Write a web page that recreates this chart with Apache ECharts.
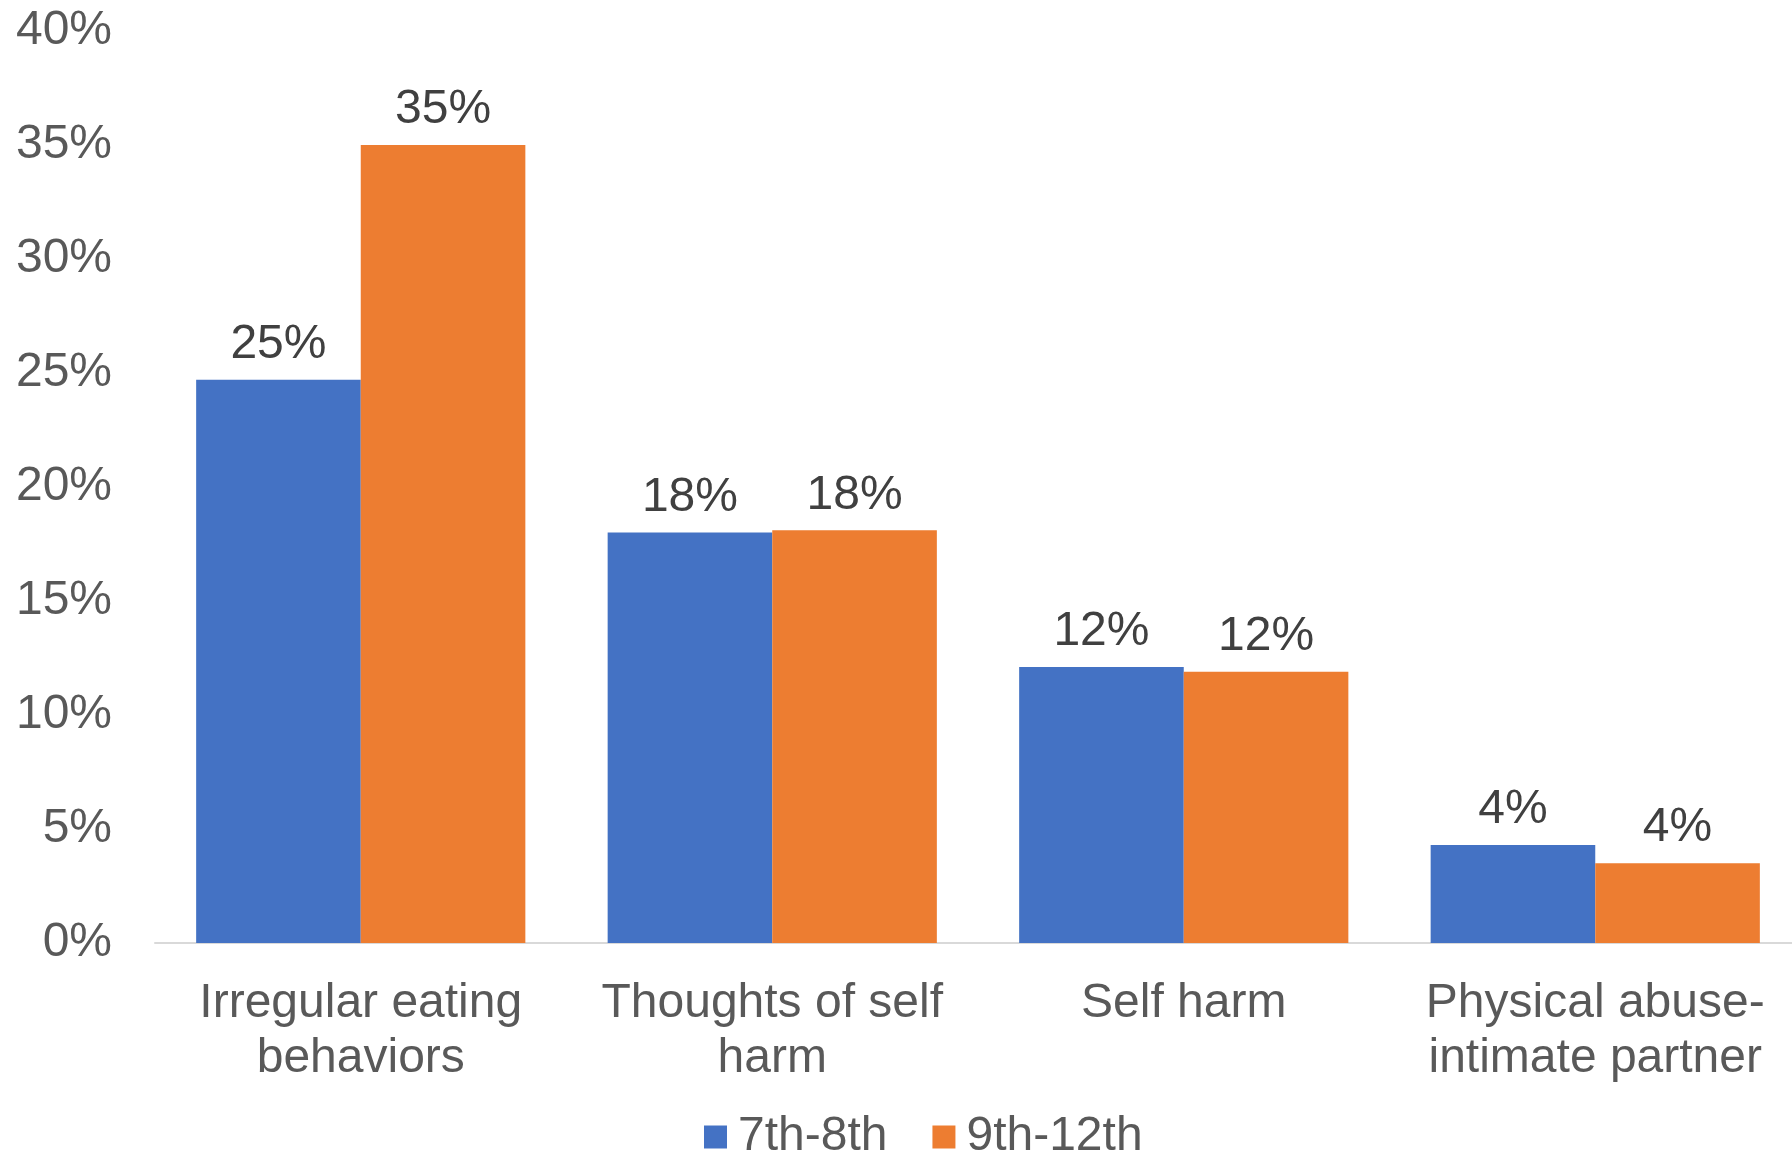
<!DOCTYPE html>
<html>
<head>
<meta charset="utf-8">
<script src="https://cdn.jsdelivr.net/npm/echarts@6/dist/echarts.min.js"></script>
<style>
  html, body { margin: 0; padding: 0; background: #ffffff; overflow: hidden; }
  #chart { width: 1801px; height: 1152px; }
</style>
</head>
<body>
<div id="chart"></div>
<script>
const categories = [
  "Irregular eating\nbehaviors",
  "Thoughts of self\nharm",
  "Self harm",
  "Physical abuse-\nintimate partner"
];
const seriesNames = ["7th-8th", "9th-12th"];
const grade7to8 = [24.7, 18.0, 12.1, 4.3];
const grade9to12 = [35.0, 18.1, 11.9, 3.5];
const yTicks = { min: 0, max: 40, interval: 5 };

const FONT = "'Liberation Sans', Arial, sans-serif";
const chart = echarts.init(document.getElementById('chart'), null, { renderer: 'canvas' });

const labelCfg = {
  show: true,
  position: 'top',
  distance: 11,
  color: '#404040',
  fontFamily: FONT,
  fontSize: 48,
  formatter: p => Math.round(p.value) + '%'
};

chart.setOption({
  animation: false,
  backgroundColor: '#ffffff',
  textStyle: { fontFamily: FONT },
  grid: { left: 155, top: 31, right: 0, height: 912, containLabel: false },
  legend: {
    data: seriesNames,
    left: 699,
    top: 1108,
    itemWidth: 23,
    itemHeight: 23,
    itemGap: 45,
    icon: 'rect',
    textStyle: { color: '#595959', fontSize: 48, fontFamily: FONT, padding: [0, 0, 0, 6] }
  },
  xAxis: {
    type: 'category',
    data: categories,
    axisLine: { show: true, lineStyle: { color: '#d9d9d9', width: 2 } },
    axisTick: { show: false },
    axisLabel: {
      color: '#595959',
      fontSize: 48,
      fontFamily: FONT,
      lineHeight: 55,
      margin: 33,
      interval: 0
    }
  },
  yAxis: {
    type: 'value',
    min: yTicks.min,
    max: yTicks.max,
    interval: yTicks.interval,
    splitLine: { show: false },
    axisLine: { show: false },
    axisTick: { show: false },
    axisLabel: {
      color: '#595959',
      fontSize: 48,
      fontFamily: FONT,
      margin: 43,
      padding: [10, 0, 0, 0],
      formatter: '{value}%'
    }
  },
  series: [
    {
      name: seriesNames[0],
      type: 'bar',
      data: grade7to8,
      barWidth: '40%',
      barGap: '0%',
      itemStyle: { color: '#4472C4' },
      label: labelCfg
    },
    {
      name: seriesNames[1],
      type: 'bar',
      data: grade9to12,
      barWidth: '40%',
      barGap: '0%',
      itemStyle: { color: '#ED7D31' },
      label: labelCfg
    }
  ]
});
</script>
</body>
</html>
